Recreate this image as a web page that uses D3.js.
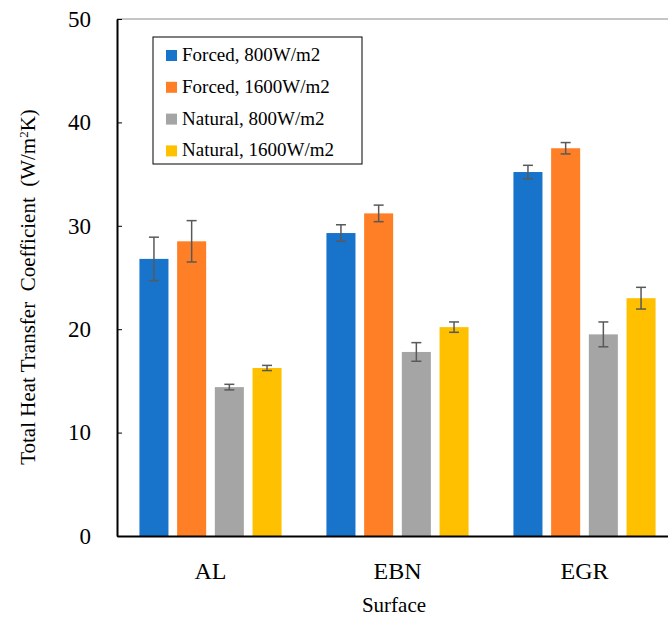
<!DOCTYPE html>
<meta charset="utf-8">
<head>
  <script src="https://d3js.org/d3.v7.min.js"></script>
  <style>
    body { margin: 0; background: #fff; }
    text { font-family: 'Liberation Serif', 'Times New Roman', serif; fill: #000; }
  </style>
</head>
<body>
<div id="chart"></div>
<script>
  const surfaces = ["AL", "EBN", "EGR"];
  const series = ["Forced, 800W/m2", "Forced, 1600W/m2", "Natural, 800W/m2", "Natural, 1600W/m2"];
  const colors = ["#1873CA", "#FF7F27", "#A5A5A5", "#FFC000"];
  // values per series, in order AL, EBN, EGR
  const forced800 = [26.8, 29.3, 35.2];
  const forced1600 = [28.5, 31.2, 37.5];
  const natural800 = [14.4, 17.8, 19.5];
  const natural1600 = [16.25, 20.2, 23.0];
  // error bar half-widths
  const forced800Err = [2.1, 0.8, 0.65];
  const forced1600Err = [2.0, 0.8, 0.55];
  const natural800Err = [0.27, 0.9, 1.2];
  const natural1600Err = [0.25, 0.5, 1.05];
  const yTicks = [0, 10, 20, 30, 40, 50];

  const values = [forced800, forced1600, natural800, natural1600];
  const errors = [forced800Err, forced1600Err, natural800Err, natural1600Err];

  const W = 668, H = 617;
  const margin = { top: 19, right: -10, bottom: 81, left: 117 };
  const plotW = 561, plotH = H - margin.top - margin.bottom;

  const svg = d3.select("#chart").append("svg")
    .attr("width", W).attr("height", H);

  const g = svg.append("g")
    .attr("transform", "translate(" + margin.left + "," + margin.top + ")");

  const x0 = d3.scaleBand().domain(surfaces).range([0, plotW]);
  const x1 = d3.scaleBand().domain(series)
    .range([-75.4, 75.4]).paddingInner(0.23).paddingOuter(0.115);
  const y = d3.scaleLinear().domain([0, 50]).range([plotH, 0]);

  // plot border (top)
  g.append("line")
    .attr("x1", 0).attr("x2", plotW)
    .attr("y1", 0).attr("y2", 0)
    .attr("stroke", "#8c8c8c").attr("stroke-width", 1);

  // bars
  const rows = [];
  surfaces.forEach((s, i) => {
    series.forEach((k, j) => {
      rows.push({ s: s, k: k, j: j, v: values[j][i], e: errors[j][i] });
    });
  });

  const cx = d => x0(d.s) + x0.bandwidth() / 2 + x1(d.k);

  g.selectAll(".bar").data(rows).enter().append("rect")
    .attr("class", "bar")
    .attr("x", cx)
    .attr("width", x1.bandwidth())
    .attr("y", d => y(d.v))
    .attr("height", d => y(0) - y(d.v))
    .attr("fill", d => colors[d.j]);

  // error bars
  const eb = g.selectAll(".err").data(rows).enter().append("g")
    .attr("class", "err")
    .attr("stroke", "#595959").attr("stroke-width", 1.5);
  eb.append("line")
    .attr("x1", d => cx(d) + x1.bandwidth() / 2).attr("x2", d => cx(d) + x1.bandwidth() / 2)
    .attr("y1", d => y(d.v + d.e)).attr("y2", d => y(d.v - d.e));
  eb.append("line")
    .attr("x1", d => cx(d) + x1.bandwidth() / 2 - 5).attr("x2", d => cx(d) + x1.bandwidth() / 2 + 5)
    .attr("y1", d => y(d.v + d.e)).attr("y2", d => y(d.v + d.e));
  eb.append("line")
    .attr("x1", d => cx(d) + x1.bandwidth() / 2 - 5).attr("x2", d => cx(d) + x1.bandwidth() / 2 + 5)
    .attr("y1", d => y(d.v - d.e)).attr("y2", d => y(d.v - d.e));

  // y axis
  const yAxis = g.append("g")
    .call(d3.axisLeft(y).tickValues(yTicks).tickSizeInner(-5).tickSizeOuter(0).tickPadding(26));
  yAxis.select(".domain").attr("stroke", "#000").attr("stroke-width", 2);
  yAxis.selectAll(".tick line").attr("stroke", "#000").attr("stroke-width", 1);
  yAxis.selectAll(".tick text")
    .style("font-family", "'Liberation Serif', serif").style("font-size", "23px");

  // x axis
  const xAxis = g.append("g")
    .attr("transform", "translate(0," + plotH + ")")
    .call(d3.axisBottom(x0).tickSize(0).tickPadding(26));
  xAxis.select(".domain").attr("stroke", "#000").attr("stroke-width", 2);
  xAxis.selectAll(".tick text")
    .style("font-family", "'Liberation Serif', serif").style("font-size", "24px");

  // axis titles
  svg.append("text")
    .attr("x", 394).attr("y", 612)
    .attr("text-anchor", "middle")
    .style("font-size", "21px")
    .text("Surface");

  const yt = svg.append("text")
    .attr("transform", "translate(35,287) rotate(-90)")
    .attr("text-anchor", "middle")
    .style("font-size", "21px")
    .attr("xml:space", "preserve");
  yt.append("tspan").text("Total Heat Transfer  Coefficient  (W/m");
  yt.append("tspan").attr("baseline-shift", "super").style("font-size", "13px").text("2");
  yt.append("tspan").text("K)");

  // legend
  const leg = svg.append("g").attr("transform", "translate(153,37)");
  leg.append("rect")
    .attr("width", 209).attr("height", 127)
    .attr("fill", "#fff").attr("stroke", "#000").attr("stroke-width", 1);
  series.forEach((k, j) => {
    const row = leg.append("g").attr("transform", "translate(0," + (18 + j * 31.8) + ")");
    row.append("rect")
      .attr("x", 13).attr("y", -5).attr("width", 11).attr("height", 11)
      .attr("fill", colors[j]);
    row.append("text")
      .attr("x", 29).attr("y", 6)
      .style("font-size", "19px")
      .text(k);
  });
</script>
</body>
